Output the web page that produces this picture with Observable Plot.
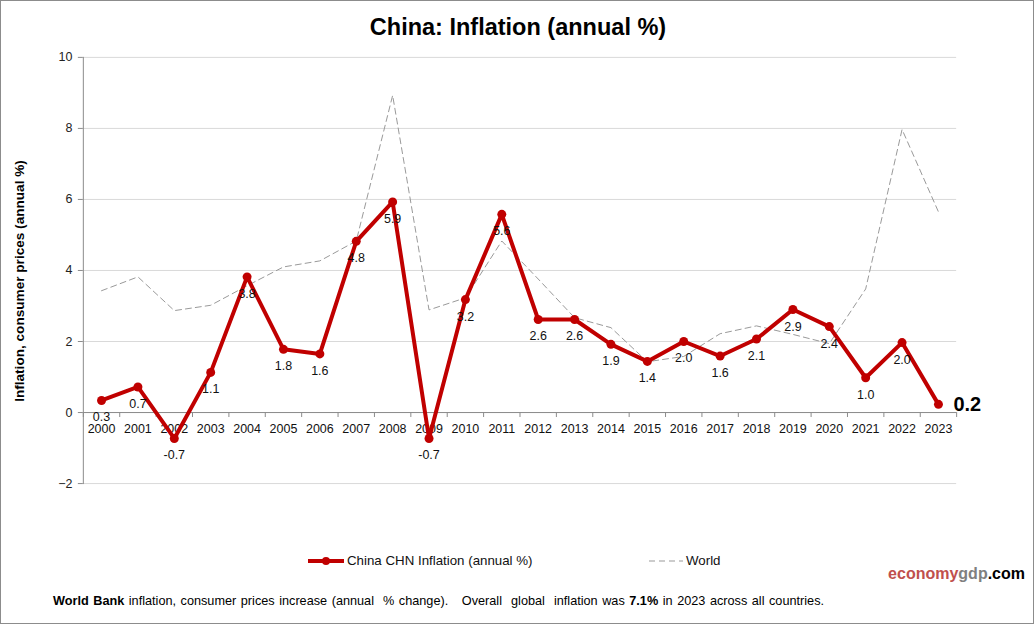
<!DOCTYPE html>
<html>
<head>
<meta charset="utf-8">
<script src="https://cdn.jsdelivr.net/npm/d3@7"></script>
<script src="https://cdn.jsdelivr.net/npm/@observablehq/plot@0.6"></script>
<style>
  html, body { margin: 0; padding: 0; background: #fff; }
  body { font-family: "Liberation Sans", Arial, sans-serif; }
  #wrap { position: relative; width: 1034px; height: 624px; box-sizing: border-box; border: 1px solid #8c8c8c; overflow: hidden; }
  #title { position: absolute; top: 13px; left: 0; width: 1034px; text-align: center; font-size: 23.5px; font-weight: bold; color: #000; }
  #chart { position: absolute; top: 0; left: 0; }
  #ylab { position: absolute; left: 18px; top: 280px; transform: translate(-50%, -50%) rotate(-90deg); white-space: nowrap; font-size: 13.6px; font-weight: bold; color: #000; }
  .leg { position: absolute; top: 552px; font-size: 13.3px; color: #111; display: flex; align-items: center; }
  #logo { position: absolute; right: 8px; top: 564px; font-size: 16px; font-weight: bold; }
  #foot { position: absolute; left: 52px; top: 593px; font-size: 12.7px; color: #000; word-spacing: 1px; white-space: nowrap; }
</style>
</head>
<body>
<div id="wrap">
  <div id="title">China: Inflation (annual %)</div>
  <div id="chart"></div>
  <div id="ylab">Inflation, consumer prices (annual %)</div>
  <div class="leg" style="left:306px;">
    <svg width="40" height="12"><line x1="1" y1="6" x2="37" y2="6" stroke="#c00000" stroke-width="4"/><circle cx="19" cy="6" r="4" fill="#c00000"/></svg>
    <span>China CHN Inflation (annual %)</span>
  </div>
  <div class="leg" style="left:647px;">
    <svg width="38" height="12"><line x1="1" y1="6" x2="35" y2="6" stroke="#999" stroke-width="1" stroke-dasharray="6,4"/></svg>
    <span>World</span>
  </div>
  <div id="logo"><span style="color:#c0504d">economy</span><span style="color:#808080">gdp</span><span style="color:#000">.com</span></div>
  <div id="foot"><b>World Bank</b> inflation, consumer prices increase (annual &nbsp;% change). &nbsp; Overall &nbsp;global &nbsp;inflation was <b>7.1%</b> in 2023 across all countries.</div>
</div>
<script>
const years = [2000,2001,2002,2003,2004,2005,2006,2007,2008,2009,2010,2011,2012,2013,2014,2015,2016,2017,2018,2019,2020,2021,2022,2023];
const china = [0.34,0.72,-0.73,1.13,3.82,1.78,1.65,4.82,5.93,-0.73,3.18,5.58,2.62,2.62,1.92,1.44,2.00,1.59,2.07,2.90,2.42,0.98,1.97,0.23];
const world = [3.43,3.82,2.87,3.02,3.57,4.10,4.27,4.83,8.93,2.89,3.23,4.83,3.76,2.67,2.39,1.43,1.58,2.22,2.44,2.20,1.94,3.48,7.97,5.65];
const yTicks = [-2,0,2,4,6,8,10];

const chinaData = years.map((yr, i) => ({year: yr, v: china[i]}));
const worldData = years.map((yr, i) => ({year: yr, v: world[i]}));
const bounds = [...years.map(y => y - 0.5), years[years.length - 1] + 0.5];
const lastPt = chinaData[chinaData.length - 1];
const red = "#c00000";

const plot = Plot.plot({
  width: 1034,
  height: 500,
  marginTop: 56,
  marginLeft: 82,
  marginRight: 77,
  marginBottom: 17,
  style: {fontFamily: "'Liberation Sans', Arial, sans-serif", background: "transparent"},
  x: {type: "linear", domain: [years[0] - 0.5, years[years.length - 1] + 0.5], axis: null},
  y: {domain: [-2, 10], axis: null},
  marks: [
    Plot.gridY(yTicks, {stroke: "#d9d9d9", strokeOpacity: 1}),
    Plot.frame({anchor: "left", stroke: "#8c8c8c"}),
    Plot.axisY(yTicks, {tickSize: 5, tickPadding: 6, fontSize: 12.5, label: null, stroke: "#8c8c8c", fill: "#222"}),
    Plot.ruleY([0], {stroke: "#8c8c8c"}),
    Plot.ruleX(bounds, {x: d => d, y1: 0, y2: 0, insetBottom: -5, stroke: "#8c8c8c"}),
    Plot.text(years, {x: d => d, y: 0, text: d => String(d), dy: 16, fontSize: 12.5, fill: "#111"}),
    Plot.line(worldData, {x: "year", y: "v", stroke: "#999", strokeWidth: 1, strokeDasharray: "6,4"}),
    Plot.line(chinaData, {x: "year", y: "v", stroke: red, strokeWidth: 4}),
    Plot.dot(chinaData, {x: "year", y: "v", r: 4.5, fill: red}),
    Plot.text(chinaData.slice(0, -1), {x: "year", y: "v", text: d => d.v.toFixed(1), dy: 17, fontSize: 12.5, fill: "#111"}),
    Plot.text([lastPt], {x: "year", y: "v", text: d => d.v.toFixed(1), dx: 15, textAnchor: "start", fontSize: 20, fontWeight: "bold", fill: "#000"})
  ]
});
document.getElementById("chart").appendChild(plot);
</script>
</body>
</html>
